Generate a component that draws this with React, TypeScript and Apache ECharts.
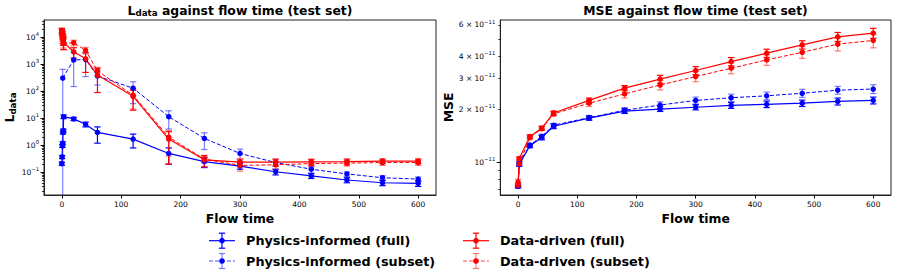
import React, { useEffect, useRef } from 'react';
import * as echarts from 'echarts';

// ---------------- data ----------------
const flowTimes = [20, 40, 60, 120, 180, 240, 300, 360, 420, 480, 540, 600];
const earlyTimesL = [0, 0.5, 1, 1.5, 2, 2.5, 3];
const earlyTimesLSubsetPI = [1.5];
const earlyTimesMSE = [0, 2];

// L_data (test set)
const ldataPIFull = [0.21, 0.37, 0.95, 1.2, 3.0, 3.5, 11.5, 9.5, 6.0, 3.0, 1.7, 0.5, 0.25, 0.17, 0.105, 0.074, 0.052, 0.041, 0.039];
const ldataPIFullErr = [0.03, 0.05, 0.12, 0.15, 0.4, 0.5, 1.8, 1.3, 1.2, 1.8, 0.9, 0.3, 0.1, 0.04, 0.025, 0.015, 0.011, 0.009, 0.009];
const ldataPISubset = [310, 1450, 1500, 370, 130, 11.5, 1.8, 0.5, 0.23, 0.13, 0.087, 0.063, 0.056];
const ldataPISubsetErr = [340, 1300, 1150, 200, 95, 7.5, 1.1, 0.22, 0.06, 0.035, 0.017, 0.012, 0.01];
const ldataDDFull = [18000, 15500, 13000, 11000, 9500, 8000, 6500, 2900, 1600, 400, 65, 1.7, 0.29, 0.24, 0.24, 0.245, 0.25, 0.26, 0.26];
const ldataDDFullErr = [3500, 4000, 3500, 3000, 3500, 3000, 3000, 1200, 1100, 310, 45, 1.5, 0.13, 0.07, 0.07, 0.06, 0.06, 0.05, 0.05];
const ldataDDSubset = [17000, 14000, 12000, 10000, 8500, 7000, 6000, 6300, 3300, 570, 72, 2.0, 0.31, 0.18, 0.19, 0.21, 0.22, 0.23, 0.23];
const ldataDDSubsetErr = [4000, 3500, 3500, 3000, 3000, 3000, 2500, 1500, 900, 200, 50, 1.6, 0.08, 0.07, 0.06, 0.05, 0.05, 0.05, 0.05];

// MSE (test set), in units of 1e-11
const MSE_UNIT = 1e-11;
const msePIFull = [0.73, 0.97, 1.24, 1.38, 1.60, 1.78, 1.95, 2.00, 2.05, 2.10, 2.13, 2.16, 2.21, 2.24];
const msePIFullErr = [0.01, 0.02, 0.03, 0.04, 0.05, 0.05, 0.06, 0.06, 0.07, 0.08, 0.09, 0.09, 0.1, 0.1];
const msePISubset = [0.73, 0.99, 1.25, 1.40, 1.62, 1.79, 1.97, 2.11, 2.24, 2.32, 2.38, 2.46, 2.56, 2.60];
const msePISubsetErr = [0.02, 0.02, 0.03, 0.04, 0.04, 0.05, 0.07, 0.09, 0.1, 0.11, 0.12, 0.13, 0.13, 0.15];
const mseDDFull = [0.74, 1.05, 1.40, 1.56, 1.90, 2.24, 2.63, 2.96, 3.31, 3.72, 4.15, 4.63, 5.14, 5.39];
const mseDDFullErr = [0.02, 0.02, 0.03, 0.04, 0.05, 0.07, 0.09, 0.15, 0.17, 0.2, 0.22, 0.25, 0.3, 0.35];
const mseDDSubset = [0.77, 0.98, 1.38, 1.55, 1.88, 2.16, 2.44, 2.74, 3.06, 3.41, 3.80, 4.20, 4.67, 4.90];
const mseDDSubsetErr = [0.03, 0.02, 0.03, 0.04, 0.05, 0.09, 0.13, 0.17, 0.2, 0.24, 0.26, 0.32, 0.4, 0.45];

const seriesNames = ['Physics-informed (full)', 'Physics-informed (subset)', 'Data-driven (full)', 'Data-driven (subset)'];
const xTickValues = [0, 100, 200, 300, 400, 500, 600];
const ldataMajorTicks = [0.1, 1, 10, 100, 1000, 10000];
const mseMajorTicks = [1e-11];
const mseLabelTicks = [1e-11, 2e-11, 3e-11, 4e-11, 6e-11];
const mseMinorTicks = [7e-12, 8e-12, 9e-12, 2e-11, 3e-11, 4e-11, 5e-11, 6e-11];

// ---------------- styling ----------------
const FONT = 'DejaVu Sans';
const BLUE = '#0000ff';
const RED = '#ff0000';
const L_MIN = Math.pow(10, -1.84);
const L_MAX = Math.pow(10, 4.64);
const M_MIN = 6.52e-12;
const M_MAX = 6.4e-11;

const ldataMinorTicks: number[] = [];
for (let k = -2; k <= 4; k++) {
  for (let m = 2; m <= 9; m++) {
    const v = m * Math.pow(10, k);
    if (v >= L_MIN && v <= L_MAX) ldataMinorTicks.push(v);
  }
}

type Ser = { name: string; color: string; dashed: boolean; t: number[]; v: number[]; e: number[] };

const ldataSeries: Ser[] = [
  { name: seriesNames[0], color: BLUE, dashed: false, t: [...earlyTimesL, ...flowTimes], v: ldataPIFull, e: ldataPIFullErr },
  { name: seriesNames[1], color: BLUE, dashed: true, t: [...earlyTimesLSubsetPI, ...flowTimes], v: ldataPISubset, e: ldataPISubsetErr },
  { name: seriesNames[2], color: RED, dashed: false, t: [...earlyTimesL, ...flowTimes], v: ldataDDFull, e: ldataDDFullErr },
  { name: seriesNames[3], color: RED, dashed: true, t: [...earlyTimesL, ...flowTimes], v: ldataDDSubset, e: ldataDDSubsetErr },
];
const mseSeries: Ser[] = [
  { name: seriesNames[0], color: BLUE, dashed: false, t: [...earlyTimesMSE, ...flowTimes], v: msePIFull, e: msePIFullErr },
  { name: seriesNames[1], color: BLUE, dashed: true, t: [...earlyTimesMSE, ...flowTimes], v: msePISubset, e: msePISubsetErr },
  { name: seriesNames[2], color: RED, dashed: false, t: [...earlyTimesMSE, ...flowTimes], v: mseDDFull, e: mseDDFullErr },
  { name: seriesNames[3], color: RED, dashed: true, t: [...earlyTimesMSE, ...flowTimes], v: mseDDSubset, e: mseDDSubsetErr },
];

const makeErrRender = (color: string, opacity: number) => (params: any, api: any) => {
  const x = api.value(0);
  const lo = api.value(1);
  const hi = api.value(2);
  const pLo = api.coord([x, lo]);
  const pHi = api.coord([x, hi]);
  const cs = params.coordSys;
  const top = cs.y;
  const bottom = cs.y + cs.height;
  const cap = 3.2;
  const st = { stroke: color, lineWidth: 1.2, opacity };
  const px = pHi[0];
  const yTop = Math.max(pHi[1], top);
  let yBot = pLo[1];
  if (!isFinite(yBot) || yBot > bottom) yBot = bottom;
  const children: any[] = [
    { type: 'line', shape: { x1: px, y1: yTop, x2: px, y2: yBot }, style: st },
  ];
  if (pHi[1] >= top) children.push({ type: 'line', shape: { x1: px - cap, y1: pHi[1], x2: px + cap, y2: pHi[1] }, style: st });
  if (isFinite(pLo[1]) && pLo[1] <= bottom) children.push({ type: 'line', shape: { x1: px - cap, y1: pLo[1], x2: px + cap, y2: pLo[1] }, style: st });
  return { type: 'group', children };
};

function buildSeries(list: Ser[], axisIndex: number, scale: number) {
  const out: any[] = [];
  list.forEach((s) => {
    const bars = s.t.map((t, k) => [t, Math.max((s.v[k] - s.e[k]) * scale, 1e-30), (s.v[k] + s.e[k]) * scale]);
    out.push({
      type: 'custom',
      name: s.name + ' error',
      xAxisIndex: axisIndex,
      yAxisIndex: axisIndex * 2,
      data: bars,
      encode: { x: 0, y: [1, 2] },
      renderItem: makeErrRender(s.color, s.dashed ? 0.5 : 1),
      silent: true,
    });
    out.push({
      type: 'line',
      name: s.name,
      xAxisIndex: axisIndex,
      yAxisIndex: axisIndex * 2,
      data: s.t.map((t, k) => [t, s.v[k] * scale]),
      symbol: 'circle',
      symbolSize: 5.5,
      showSymbol: true,
      lineStyle: { color: s.color, width: s.dashed ? 1 : 1.2, type: s.dashed ? [4, 2] : 'solid' },
      itemStyle: { color: s.color },
      silent: true,
    });
  });
  return out;
}

const supText = (n: number) => (n < 0 ? '\u2212' + Math.abs(n) : String(n));

const tickLabelStyle = {
  fontFamily: FONT,
  fontSize: 7.5,
  color: '#000',
};
const supRich = {
  b: { fontFamily: FONT, fontSize: 7.5, color: '#000' },
  p: { fontFamily: FONT, fontSize: 5.3, color: '#000', verticalAlign: 'top', padding: [0, 0, 6, 0] },
};

function xAxis(gridIndex: number) {
  return {
    type: 'value',
    gridIndex,
    min: -30,
    max: 630,
    name: 'Flow time',
    nameLocation: 'middle',
    nameGap: 15.5,
    nameTextStyle: { fontFamily: FONT, fontSize: 12.4, fontWeight: 'bold', color: '#000' },
    axisLine: { show: true, onZero: false, lineStyle: { color: '#222', width: 1 } },
    axisTick: { show: true, length: 3.5, customValues: xTickValues, lineStyle: { color: '#000', width: 1 } },
    axisLabel: { ...tickLabelStyle, margin: 5, customValues: xTickValues },
    splitLine: { show: false },
  };
}

function yAxisMajor(gridIndex: number, min: number, max: number, ticks: number[], labels: number[], formatter: any, name: string, nameGap: number, nameRich?: any) {
  return {
    type: 'log',
    logBase: 10,
    gridIndex,
    min,
    max,
    name,
    nameLocation: 'middle',
    nameRotate: 90,
    nameGap,
    nameTextStyle: { fontFamily: FONT, fontSize: 12.4, fontWeight: 'bold', color: '#000', rich: nameRich },
    axisLine: { show: true, onZero: false, lineStyle: { color: '#222', width: 1 } },
    axisTick: { show: true, length: 3.5, customValues: ticks, lineStyle: { color: '#000', width: 1 } },
    axisLabel: { ...tickLabelStyle, margin: 5, customValues: labels, formatter, rich: supRich },
    splitLine: { show: false },
    minorTick: { show: false },
  };
}

function yAxisMinor(gridIndex: number, min: number, max: number, ticks: number[]) {
  return {
    type: 'log',
    logBase: 10,
    gridIndex,
    position: 'left',
    offset: 0,
    min,
    max,
    axisLine: { show: false, onZero: false },
    axisTick: { show: true, length: 2, customValues: ticks, lineStyle: { color: '#000', width: 0.8 } },
    axisLabel: { show: false },
    splitLine: { show: false },
  };
}

const ldataFormatter = (v: number) => {
  const e = Math.round(Math.log10(v));
  return '{b|10}{p|' + supText(e) + '}';
};
const mseFormatter = (v: number) => {
  const m = Math.round(v / 1e-11);
  if (m === 1) return '{b|10}{p|\u221211}';
  return '{b|' + m + ' \u00d7 10}{p|\u221211}';
};

const subRich = {
  L: { fontFamily: FONT, fontSize: 12.4, fontWeight: 'bold', color: '#000' },
  s: { fontFamily: FONT, fontSize: 8.7, fontWeight: 'bold', color: '#000', verticalAlign: 'bottom', padding: [6, 0, 0, 0] },
  n: { fontFamily: FONT, fontSize: 12.4, fontWeight: 'bold', color: '#000' },
};

function legendItem(x0: number, y: number, color: string, dashed: boolean, label: string) {
  const op = dashed ? 0.5 : 1;
  const cx = x0 + 13;
  return [
    { type: 'line', shape: { x1: x0, y1: y, x2: x0 + 26, y2: y }, style: { stroke: color, lineWidth: dashed ? 1 : 1.2, lineDash: dashed ? [4, 2] : null, opacity: dashed ? 0.7 : 1 }, silent: true },
    { type: 'line', shape: { x1: cx, y1: y - 7.5, x2: cx, y2: y + 7.5 }, style: { stroke: color, lineWidth: 1.2, opacity: op }, silent: true },
    { type: 'line', shape: { x1: cx - 3.2, y1: y - 7.5, x2: cx + 3.2, y2: y - 7.5 }, style: { stroke: color, lineWidth: 1.2, opacity: op }, silent: true },
    { type: 'line', shape: { x1: cx - 3.2, y1: y + 7.5, x2: cx + 3.2, y2: y + 7.5 }, style: { stroke: color, lineWidth: 1.2, opacity: op }, silent: true },
    { type: 'circle', shape: { cx, cy: y, r: 2.8 }, style: { fill: color }, silent: true },
    { type: 'text', x: x0 + 37, y, style: { text: label, fontFamily: FONT, fontSize: 12.8, fontWeight: 'bold', fill: '#000', verticalAlign: 'middle', align: 'left' }, silent: true },
  ];
}

export default function App() {
  const ref = useRef<HTMLDivElement>(null);
  useEffect(() => {
    if (!ref.current) return;
    const chart = echarts.init(ref.current, undefined, { renderer: 'svg' });
    const option: any = {
      animation: false,
      textStyle: { fontFamily: FONT },
      grid: [
        { left: 44, top: 20, width: 392, height: 175, show: true, borderColor: '#222', borderWidth: 1, backgroundColor: 'transparent' },
        { left: 500.3, top: 20, width: 390.7, height: 175, show: true, borderColor: '#222', borderWidth: 1, backgroundColor: 'transparent' },
      ],
      xAxis: [xAxis(0), xAxis(1)],
      yAxis: [
        yAxisMajor(0, L_MIN, L_MAX, ldataMajorTicks, ldataMajorTicks, ldataFormatter, '{L|L}{s|data}', 27, subRich),
        yAxisMinor(0, L_MIN, L_MAX, ldataMinorTicks),
        yAxisMajor(1, M_MIN, M_MAX, mseMajorTicks, mseLabelTicks, mseFormatter, 'MSE', 45),
        yAxisMinor(1, M_MIN, M_MAX, mseMinorTicks),
      ],
      series: [...buildSeries(ldataSeries, 0, 1), ...buildSeries(mseSeries, 1, MSE_UNIT)],
      graphic: [
        { type: 'text', x: 240, y: 10, style: { text: '{L|L}{s|data}{n| against flow time (test set)}', rich: subRich, align: 'center', verticalAlign: 'middle' }, silent: true },
        { type: 'text', x: 695.5, y: 10, style: { text: 'MSE against flow time (test set)', fontFamily: FONT, fontSize: 12.4, fontWeight: 'bold', fill: '#000', align: 'center', verticalAlign: 'middle' }, silent: true },
        ...legendItem(209, 240.7, BLUE, false, seriesNames[0]),
        ...legendItem(209, 261, BLUE, true, seriesNames[1]),
        ...legendItem(463, 240.7, RED, false, seriesNames[2]),
        ...legendItem(463, 261, RED, true, seriesNames[3]),
      ],
    };
    chart.setOption(option);
    return () => chart.dispose();
  }, []);
  return <div ref={ref} style={{ position: 'absolute', left: 0, top: 0, width: 897, height: 280 }} />;
}
